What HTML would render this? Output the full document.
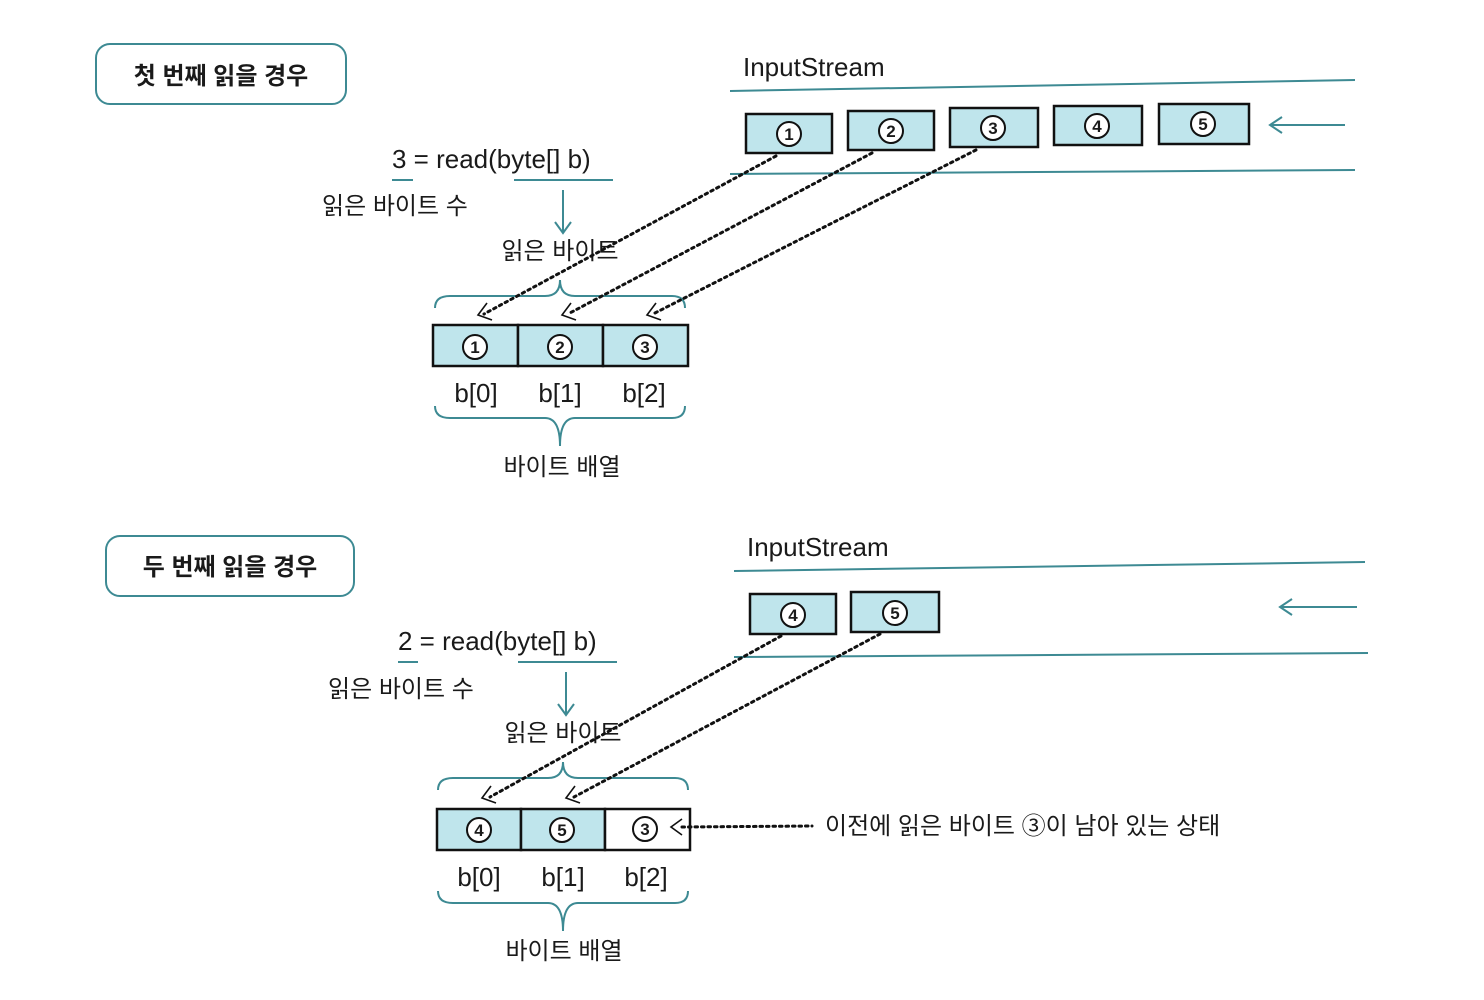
<!DOCTYPE html>
<html><head><meta charset="utf-8"><style>
html,body{margin:0;padding:0;background:#fff}
svg{display:block}
text{font-family:"Liberation Sans","Noto Sans CJK KR",sans-serif;fill:#1a1a1a}
.t{stroke:#3d8a93;stroke-width:2;fill:none}
.bx{fill:#bfe5ec;stroke:#111;stroke-width:2.5}
.wb{fill:#fff;stroke:#111;stroke-width:2.5}
.c{fill:#fff;stroke:#111;stroke-width:2}
.n{font-size:17px;font-weight:bold;text-anchor:middle}
.d{stroke:#111;stroke-width:3;stroke-dasharray:2.5 4;stroke-linecap:round;fill:none}
.h{stroke:#111;stroke-width:1.6;fill:none}
.k{font-size:24px}
.m{font-size:26px}
</style></head><body>
<svg width="1484" height="1000" viewBox="0 0 1484 1000" xmlns="http://www.w3.org/2000/svg">
<!-- ===== Section 1 ===== -->
<rect x="96" y="44" width="250" height="60" rx="14" class="t"/>
<text x="221" y="84" class="k" font-weight="bold" text-anchor="middle">첫 번째 읽을 경우</text>
<text x="743" y="76" class="m">InputStream</text>
<line x1="730" y1="91" x2="1355" y2="80" class="t"/>
<line x1="730" y1="174" x2="1355" y2="170" class="t"/>
<rect x="746" y="114" width="86" height="39" class="bx"/>
<rect x="848" y="111" width="86" height="39" class="bx"/>
<rect x="950" y="108" width="88" height="39" class="bx"/>
<rect x="1054" y="106" width="88" height="39" class="bx"/>
<rect x="1159" y="104" width="90" height="40" class="bx"/>
<circle cx="789" cy="134" r="12" class="c"/><text x="789" y="140" class="n">1</text>
<circle cx="891" cy="131" r="12" class="c"/><text x="891" y="137" class="n">2</text>
<circle cx="993" cy="128" r="12" class="c"/><text x="993" y="134" class="n">3</text>
<circle cx="1097" cy="126" r="12" class="c"/><text x="1097" y="132" class="n">4</text>
<circle cx="1203" cy="124" r="12" class="c"/><text x="1203" y="130" class="n">5</text>
<line x1="1272" y1="125" x2="1345" y2="125" class="t"/>
<polyline points="1282,117 1270,125 1282,133" class="t"/>

<text x="392" y="168" class="m">3 = read(byte[] b)</text>
<line x1="392" y1="180" x2="413" y2="180" class="t"/>
<line x1="514" y1="180" x2="613" y2="180" class="t"/>
<text x="322" y="214" class="k">읽은 바이트 수</text>
<line x1="563" y1="190" x2="563" y2="232" class="t"/>
<polyline points="555,222 563,233 571,222" class="t"/>
<text x="560" y="259" class="k" text-anchor="middle">읽은 바이트</text>
<path d="M435,308 Q435,296 450,296 L545,296 Q560,296 560,280 Q560,296 575,296 L672,296 Q685,296 685,308" class="t"/>

<rect x="433" y="325" width="85" height="41" class="bx"/>
<rect x="518" y="325" width="85" height="41" class="bx"/>
<rect x="603" y="325" width="85" height="41" class="bx"/>
<circle cx="475" cy="347" r="12" class="c"/><text x="475" y="353" class="n">1</text>
<circle cx="560" cy="347" r="12" class="c"/><text x="560" y="353" class="n">2</text>
<circle cx="645" cy="347" r="12" class="c"/><text x="645" y="353" class="n">3</text>
<text x="476" y="402" class="m" text-anchor="middle">b[0]</text>
<text x="560" y="402" class="m" text-anchor="middle">b[1]</text>
<text x="644" y="402" class="m" text-anchor="middle">b[2]</text>
<path d="M435,406 Q435,418 450,418 L545,418 Q560,418 560,446 Q560,418 575,418 L672,418 Q685,418 685,406" class="t"/>
<text x="562" y="475" class="k" text-anchor="middle">바이트 배열</text>

<line x1="776" y1="156" x2="484" y2="314" class="d"/>
<line x1="872" y1="153" x2="568" y2="314" class="d"/>
<line x1="976" y1="150" x2="653" y2="314" class="d"/>
<polyline points="487,303 478,315 492,320" class="h"/>
<polyline points="571,303 562,315 576,320" class="h"/>
<polyline points="656,303 647,315 661,320" class="h"/>

<!-- ===== Section 2 ===== -->
<rect x="106" y="536" width="248" height="60" rx="14" class="t"/>
<text x="230" y="575" class="k" font-weight="bold" text-anchor="middle">두 번째 읽을 경우</text>
<text x="747" y="556" class="m">InputStream</text>
<line x1="734" y1="571" x2="1365" y2="562" class="t"/>
<line x1="734" y1="657" x2="1368" y2="653" class="t"/>
<rect x="750" y="594" width="86" height="40" class="bx"/>
<rect x="851" y="592" width="88" height="40" class="bx"/>
<circle cx="793" cy="615" r="12" class="c"/><text x="793" y="621" class="n">4</text>
<circle cx="895" cy="613" r="12" class="c"/><text x="895" y="619" class="n">5</text>
<line x1="1282" y1="607" x2="1357" y2="607" class="t"/>
<polyline points="1292,599 1280,607 1292,615" class="t"/>

<text x="398" y="650" class="m">2 = read(byte[] b)</text>
<line x1="398" y1="662" x2="418" y2="662" class="t"/>
<line x1="518" y1="662" x2="617" y2="662" class="t"/>
<text x="328" y="697" class="k">읽은 바이트 수</text>
<line x1="566" y1="672" x2="566" y2="714" class="t"/>
<polyline points="558,704 566,715 574,704" class="t"/>
<text x="563" y="741" class="k" text-anchor="middle">읽은 바이트</text>
<path d="M438,790 Q438,778 453,778 L548,778 Q563,778 563,762 Q563,778 578,778 L675,778 Q688,778 688,790" class="t"/>

<rect x="437" y="809" width="84" height="41" class="bx"/>
<rect x="521" y="809" width="84" height="41" class="bx"/>
<rect x="605" y="809" width="85" height="41" class="wb"/>
<circle cx="479" cy="830" r="12" class="c"/><text x="479" y="836" class="n">4</text>
<circle cx="562" cy="830" r="12" class="c"/><text x="562" y="836" class="n">5</text>
<circle cx="645" cy="829" r="12" class="c"/><text x="645" y="835" class="n">3</text>
<polyline points="682,819 671,827 682,835" class="h"/>
<line x1="682" y1="827" x2="812" y2="826" class="d" stroke-width="2.5" stroke-dasharray="2 3.5"/>
<text x="825" y="834" class="k">이전에 읽은 바이트 ③이 남아 있는 상태</text>
<text x="479" y="886" class="m" text-anchor="middle">b[0]</text>
<text x="563" y="886" class="m" text-anchor="middle">b[1]</text>
<text x="646" y="886" class="m" text-anchor="middle">b[2]</text>
<path d="M438,891 Q438,903 453,903 L548,903 Q563,903 563,931 Q563,903 578,903 L675,903 Q688,903 688,891" class="t"/>
<text x="564" y="959" class="k" text-anchor="middle">바이트 배열</text>

<line x1="781" y1="636" x2="490" y2="797" class="d"/>
<line x1="880" y1="634" x2="574" y2="797" class="d"/>
<polyline points="491,786 482,798 496,803" class="h"/>
<polyline points="575,786 566,798 580,803" class="h"/>
</svg>
</body></html>
